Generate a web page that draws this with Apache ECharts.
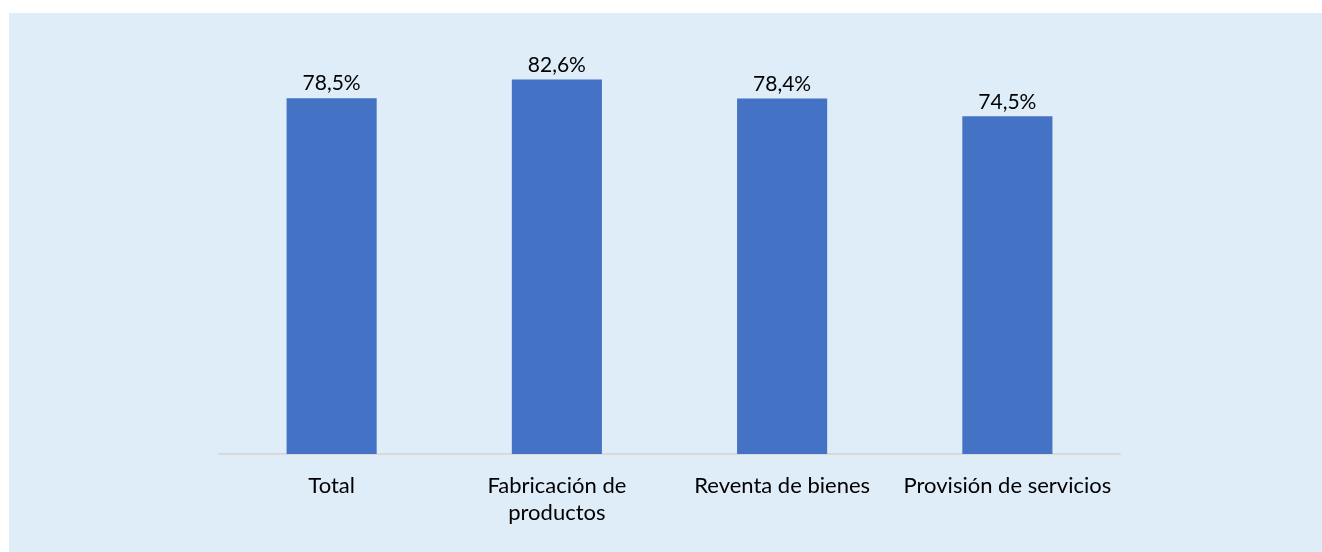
<!DOCTYPE html>
<html>
<head>
<meta charset="utf-8">
<script src="https://cdn.jsdelivr.net/npm/echarts@6/dist/echarts.min.js"></script>
<style>
  html, body { margin: 0; padding: 0; background: #ffffff; }
  .com-container {
    position: absolute;
    left: 9px;
    top: 13px;
    width: 1313px;
    height: 539px;
    background: #DFEDF9;
  }
  .com-chart { width: 100%; height: 100%; }
</style>
</head>
<body>
<div class="com-container">
  <div class="com-chart" id="main"></div>
</div>
<script>
// categorías y valores (%)
const categories = ['Total', 'Fabricación de\nproductos', 'Reventa de bienes', 'Provisión de servicios']
const values = [78.5, 82.6, 78.4, 74.5]

const fontFamily = 'Lato, "Open Sans", sans-serif'

const chart = echarts.init(document.getElementById('main'))
const option = {
  animation: false,
  grid: {
    left: 210,
    right: 202,
    top: 33,
    bottom: 98
  },
  xAxis: {
    type: 'category',
    data: categories,
    axisLine: { lineStyle: { color: '#d9d9d9', width: 2 } },
    axisTick: { show: false },
    axisLabel: {
      color: '#000000',
      fontSize: 22,
      fontFamily: fontFamily,
      lineHeight: 27,
      margin: 18,
      interval: 0
    }
  },
  yAxis: {
    type: 'value',
    min: 0,
    max: 90,
    show: false,
    splitLine: { show: false }
  },
  series: [
    {
      type: 'bar',
      data: values,
      barWidth: '40%',
      itemStyle: { color: '#4472C4' },
      label: {
        show: true,
        position: 'top',
        distance: 4,
        color: '#000000',
        fontSize: 21,
        fontFamily: fontFamily,
        formatter: arg => arg.value.toFixed(1).replace('.', ',') + '%'
      }
    }
  ]
}
chart.setOption(option)
</script>
</body>
</html>
